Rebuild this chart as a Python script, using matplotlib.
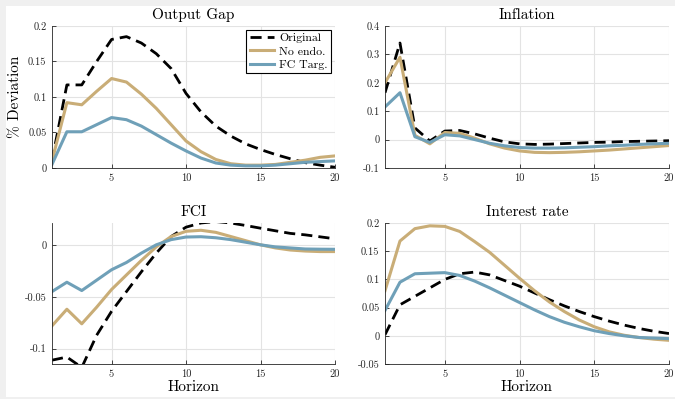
import numpy as np
import matplotlib
matplotlib.use('Agg')
import matplotlib.pyplot as plt
from matplotlib.patches import Rectangle
from matplotlib.ticker import FuncFormatter

plt.rcParams['font.family'] = 'serif'
plt.rcParams['font.serif'] = ['cmr10', 'DejaVu Serif']
plt.rcParams['axes.unicode_minus'] = False
plt.rcParams['mathtext.fontset'] = 'cm'

horizon = np.arange(1, 21)

# Output gap
gap_orig = [0.010, 0.117, 0.117, 0.150, 0.181, 0.185, 0.176, 0.161, 0.140, 0.105,
            0.079, 0.059, 0.045, 0.034, 0.026, 0.019, 0.013, 0.0075, 0.004, 0.001]
gap_noendo = [0.010, 0.092, 0.089, 0.108, 0.126, 0.121, 0.104, 0.084, 0.061, 0.038,
              0.023, 0.012, 0.006, 0.004, 0.004, 0.005, 0.008, 0.011, 0.015, 0.017]
gap_fc = [0.005, 0.051, 0.051, 0.061, 0.071, 0.068, 0.059, 0.047, 0.035, 0.024,
          0.014, 0.007, 0.004, 0.003, 0.003, 0.004, 0.006, 0.008, 0.009, 0.010]

# Inflation
inf_orig = [0.165, 0.340, 0.041, -0.005, 0.030, 0.032, 0.020, 0.005, -0.008, -0.015,
            -0.017, -0.016, -0.014, -0.012, -0.010, -0.009, -0.007, -0.006, -0.005, -0.004]
inf_noendo = [0.200, 0.290, 0.015, -0.015, 0.025, 0.022, 0.005, -0.015, -0.030, -0.040,
              -0.045, -0.046, -0.045, -0.043, -0.040, -0.037, -0.033, -0.029, -0.025, -0.021]
inf_fc = [0.115, 0.165, 0.010, -0.010, 0.017, 0.013, 0.000, -0.013, -0.022, -0.028,
          -0.030, -0.030, -0.029, -0.027, -0.025, -0.022, -0.020, -0.017, -0.015, -0.013]

# FCI
fci_orig = [-0.111, -0.108, -0.118, -0.087, -0.064, -0.045, -0.026, -0.008, 0.008, 0.017,
            0.021, 0.0224, 0.021, 0.0186, 0.016, 0.0135, 0.011, 0.0096, 0.0077, 0.0058]
fci_noendo = [-0.078, -0.062, -0.076, -0.060, -0.043, -0.029, -0.015, -0.002, 0.008, 0.013,
              0.014, 0.012, 0.008, 0.004, 0.000, -0.003, -0.005, -0.006, -0.0065, -0.0065]
fci_fc = [-0.045, -0.036, -0.044, -0.034, -0.024, -0.017, -0.008, 0.000, 0.005, 0.0075,
          0.0078, 0.0068, 0.005, 0.0025, 0.000, -0.002, -0.003, -0.004, -0.0042, -0.0043]

# Interest rate
ir_orig = [0.002, 0.055, 0.070, 0.085, 0.100, 0.110, 0.113, 0.108, 0.098, 0.088,
           0.076, 0.064, 0.053, 0.043, 0.034, 0.026, 0.019, 0.013, 0.008, 0.004]
ir_noendo = [0.080, 0.168, 0.190, 0.195, 0.194, 0.185, 0.167, 0.148, 0.125, 0.102,
             0.080, 0.060, 0.043, 0.028, 0.016, 0.007, 0.001, -0.003, -0.006, -0.008]
ir_fc = [0.045, 0.095, 0.110, 0.111, 0.112, 0.107, 0.097, 0.085, 0.072, 0.059,
         0.046, 0.034, 0.024, 0.016, 0.009, 0.004, 0.000, -0.003, -0.004, -0.005]

titles = ['Output Gap', 'Inflation', 'FCI', 'Interest rate']
series = [(gap_orig, gap_noendo, gap_fc), (inf_orig, inf_noendo, inf_fc),
          (fci_orig, fci_noendo, fci_fc), (ir_orig, ir_noendo, ir_fc)]
ylims = [(0, 0.2), (-0.1, 0.4), (-0.1147, 0.021), (-0.05, 0.2)]
yticks = [[0, 0.05, 0.1, 0.15, 0.2], [-0.1, 0, 0.1, 0.2, 0.3, 0.4],
          [-0.1, -0.05, 0], [-0.05, 0, 0.05, 0.1, 0.15, 0.2]]

tan = '#c9ad77'
blue = '#6fa0b8'

fig = plt.figure(figsize=(6.75, 3.99), dpi=100)
fig.patch.set_facecolor('#f0f0f0')
fig.patches.append(Rectangle((6 / 675, 2 / 399), 1, 1 - 8 / 399, transform=fig.transFigure,
                             facecolor='white', edgecolor='none', zorder=-10))

positions = [(0.077, 0.579, 0.4193, 0.3559), (0.5704, 0.579, 0.4207, 0.3559),
             (0.077, 0.0877, 0.4193, 0.3534), (0.5704, 0.0877, 0.4207, 0.3534)]

for i in range(4):
    ax = fig.add_axes(positions[i])
    orig, noendo, fc = series[i]
    ax.plot(horizon, orig, color='black', linestyle=(0, (4, 2.2)), linewidth=2.0, label='Original')
    ax.plot(horizon, noendo, color=tan, linewidth=2.2, label='No endo.')
    ax.plot(horizon, fc, color=blue, linewidth=2.2, label='FC Targ.')
    ax.set_xlim(1, 20)
    ax.set_ylim(*ylims[i])
    ax.set_xticks([5, 10, 15, 20])
    ax.set_yticks(yticks[i])
    ax.yaxis.set_major_formatter(FuncFormatter(lambda v, p: '{:g}'.format(round(v, 4))))
    ax.grid(True, color='#e3e3e3', linewidth=0.8)
    ax.set_axisbelow(True)
    for s in ['top', 'right']:
        ax.spines[s].set_visible(False)
    for s in ['left', 'bottom']:
        ax.spines[s].set_color('#262626')
        ax.spines[s].set_linewidth(0.6)
    ax.tick_params(direction='in', length=3, width=0.6, colors='#262626', labelsize=7.5,
                   labelcolor='#262626', pad=4)
    ax.set_title(titles[i], fontsize=11, pad=5)
    if i >= 2:
        ax.set_xlabel('Horizon', fontsize=11, labelpad=1)
    if i == 0:
        ax.set_ylabel('% Deviation', fontsize=11, labelpad=4)
        leg = ax.legend(loc='upper right', fontsize=8.5, frameon=True, fancybox=False,
                        edgecolor='black', framealpha=1, handlelength=2.0,
                        borderpad=0.3, labelspacing=0.25, handletextpad=0.5,
                        borderaxespad=0.3)
        leg.get_frame().set_linewidth(0.8)

fig.savefig('out.png', dpi=100, facecolor=fig.get_facecolor())
